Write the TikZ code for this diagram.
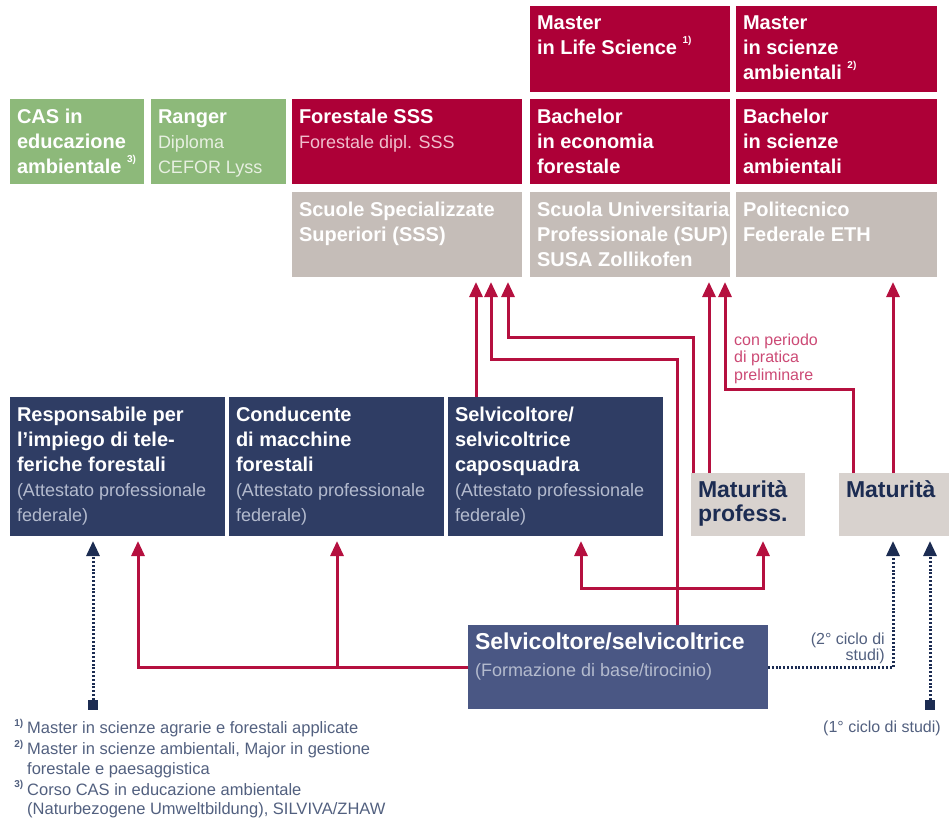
\documentclass[tikz,border=0pt]{standalone}
\usepackage{fontspec}
\setmainfont{Liberation Sans}
\usetikzlibrary{arrows.meta}

\definecolor{navy}{HTML}{2F3D64}
\definecolor{basenavy}{HTML}{4A5784}
\definecolor{crimson}{HTML}{AD0037}
\definecolor{sage}{HTML}{8DB97A}
\definecolor{stone}{HTML}{C5BDB8}
\definecolor{lightstone}{HTML}{D8D2CE}
\definecolor{linered}{HTML}{B5103F}
\definecolor{inkblue}{HTML}{1C2C52}
\definecolor{notegrey}{HTML}{52607F}
\definecolor{pinktext}{HTML}{CC4A75}
\definecolor{navysub}{HTML}{B4BBCE}
\definecolor{sagesub}{HTML}{E8F0E2}
\definecolor{crimsonsub}{HTML}{F0BFCD}

\newcommand{\boxtext}[3]{\parbox[c][#2][t]{#1}{\leftskip=7pt\rightskip=-40pt plus 1fil\rule{0pt}{24pt}#3}}
\newcommand{\subline}[2]{{\fontsize{18}{25}\selectfont\mdseries\color{#1}#2}}
\newcommand{\fnmark}[1]{~\raisebox{0.55em}{\fontsize{10}{10}\selectfont\bfseries #1)}}
\newcommand{\notemark}[1]{\llap{\raisebox{0.45em}{\fontsize{10}{10}\selectfont\bfseries #1)}\hspace{4pt}}}

\tikzset{
  box/.style={anchor=north west, inner sep=0pt, outer sep=0pt, text=white,
    font=\fontsize{20}{25}\selectfont\bfseries},
  navybox/.style={box, fill=navy},
  redbox/.style={box, fill=crimson},
  greenbox/.style={box, fill=sage},
  greybox/.style={box, fill=stone},
  matbox/.style={box, fill=lightstone, text=inkblue, font=\fontsize{23}{24}\selectfont\bfseries},
  redarr/.style={draw=linered, line width=3pt, shorten >=5pt,
    -{Triangle[width=13pt,length=15pt]}},
  navyarr/.style={draw=inkblue, line width=3pt, dash pattern=on 2pt off 1.8pt,
    shorten >=5pt, -{Triangle[width=13pt,length=15pt]}},
  sqmark/.style={fill=inkblue, minimum size=10pt, inner sep=0pt},
  smalltext/.style={inner sep=0pt, font=\fontsize{16}{17.5}\selectfont}
}

\begin{document}
\begin{tikzpicture}[x=1pt, y=-1pt]
    \useasboundingbox (0,0) rectangle (949,824);

    % top rows
    \node[redbox] (mls) at (530,6) {\boxtext{200pt}{86pt}{Master\\in Life Science\fnmark{1}}};
    \node[redbox] (msa) at (736,6) {\boxtext{201pt}{86pt}{Master\\in scienze\\ambientali\fnmark{2}}};

    \node[greenbox] (cas) at (10,99) {\boxtext{134pt}{85pt}{CAS in\\educazione\\ambientale\fnmark{3}}};
    \node[greenbox] (ranger) at (151,99) {\boxtext{135pt}{85pt}{Ranger\\\subline{sagesub}{Diploma\\CEFOR Lyss}}};
    \node[redbox] (forestale) at (292,99) {\boxtext{230pt}{85pt}{Forestale SSS\\\subline{crimsonsub}{Forestale dipl. SSS}}};
    \node[redbox] (beco) at (530,99) {\boxtext{200pt}{85pt}{Bachelor\\in economia\\forestale}};
    \node[redbox] (bsci) at (736,99) {\boxtext{201pt}{85pt}{Bachelor\\in scienze\\ambientali}};

    \node[greybox] (sss) at (292,192) {\boxtext{230pt}{85pt}{Scuole Specializzate\\Superiori (SSS)}};
    \node[greybox] (sup) at (530,192) {\boxtext{200pt}{85pt}{Scuola Universitaria\\Professionale (SUP)\\SUSA Zollikofen}};
    \node[greybox] (eth) at (736,192) {\boxtext{201pt}{85pt}{Politecnico\\Federale ETH}};

    % professional level
    \node[navybox] (resp) at (10,397) {\boxtext{215pt}{139pt}{Responsabile per\\l'impiego di tele-\\feriche forestali\\\subline{navysub}{(Attestato professionale\\federale)}}};
    \node[navybox] (cond) at (229,397) {\boxtext{215pt}{139pt}{Conducente\\di macchine\\forestali\\\subline{navysub}{(Attestato professionale\\federale)}}};
    \node[navybox] (capo) at (448,397) {\boxtext{215pt}{139pt}{Selvicoltore/\\selvicoltrice\\caposquadra\\\subline{navysub}{(Attestato professionale\\federale)}}};

    \node[matbox] (matprof) at (691,473) {\boxtext{114pt}{63pt}{Maturità\\profess.}};
    \node[matbox] (mat) at (839,473) {\boxtext{110pt}{63pt}{Maturità}};

    \node[box, fill=basenavy, font=\fontsize{23}{27}\selectfont\bfseries] (base) at (468,625)
        {\boxtext{300pt}{84pt}{Selvicoltore/selvicoltrice\\\subline{navysub}{(Formazione di base/tirocinio)}}};

    \node[sqmark] (sq1) at (93,705) {};
    \node[sqmark] (sq2) at (930,705) {};
    \coordinate (j1) at (677,588);
    \coordinate (j2) at (337,667);

    % paths
    \draw[redarr] ([xshift=28pt]capo.north west) -- ([xshift=184pt]sss.south west);
    \draw[redarr] ([xshift=209pt]base.north west) -- (677,359) -| ([xshift=199pt]sss.south west);
    \draw[redarr] ([xshift=2pt]matprof.north west) -- (693,337) -| ([xshift=216pt]sss.south west);
    \draw[redarr] ([xshift=18pt]matprof.north west) -- ([xshift=179pt]sup.south west);
    \draw[redarr] ([xshift=14pt]mat.north west) -- (853,389) -| ([xshift=195pt]sup.south west);
    \draw[redarr] ([xshift=54pt]mat.north west) -- ([xshift=157pt]eth.south west);

    \draw[redarr] (j1) -| ([xshift=133pt]capo.south west);
    \draw[redarr] (j1) -| ([xshift=72pt]matprof.south west);
    \draw[redarr] (base.west) -| ([xshift=128pt]resp.south west);
    \draw[redarr] (j2) -- ([xshift=108pt]cond.south west);

    \draw[navyarr] (sq1) -- ([xshift=83pt]resp.south west);
    \draw[navyarr] (base.east) -| ([xshift=54pt]mat.south west);
    \draw[navyarr] (sq2) -- ([xshift=91pt]mat.south west);

    % small texts
    \node[smalltext, anchor=north west, align=left, text=pinktext] (periodo) at (734,333)
        {\rule{0pt}{12pt}con periodo\\di pratica\\preliminare};
    \node[smalltext, anchor=north east, align=right, text=notegrey, font=\fontsize{16}{16}\selectfont] (ciclo2) at (885,632)
        {\rule{0pt}{12pt}(2° ciclo di\\studi)};
    \node[smalltext, anchor=base, text=notegrey] (ciclo1) at (882,732) {(1° ciclo di studi)};

    \node[smalltext, anchor=north west, align=left, text=notegrey, font=\fontsize{16.5}{19.5}\selectfont] (notes) at (27,719)
        {\rule{0pt}{14pt}\notemark{1}Master in scienze agrarie e forestali applicate\\[1.5pt]
         \notemark{2}Master in scienze ambientali, Major in gestione\\
         forestale e paesaggistica\\[1.5pt]
         \notemark{3}Corso CAS in educazione ambientale\\
         (Naturbezogene Umweltbildung), SILVIVA/ZHAW};
\end{tikzpicture}
\end{document}
